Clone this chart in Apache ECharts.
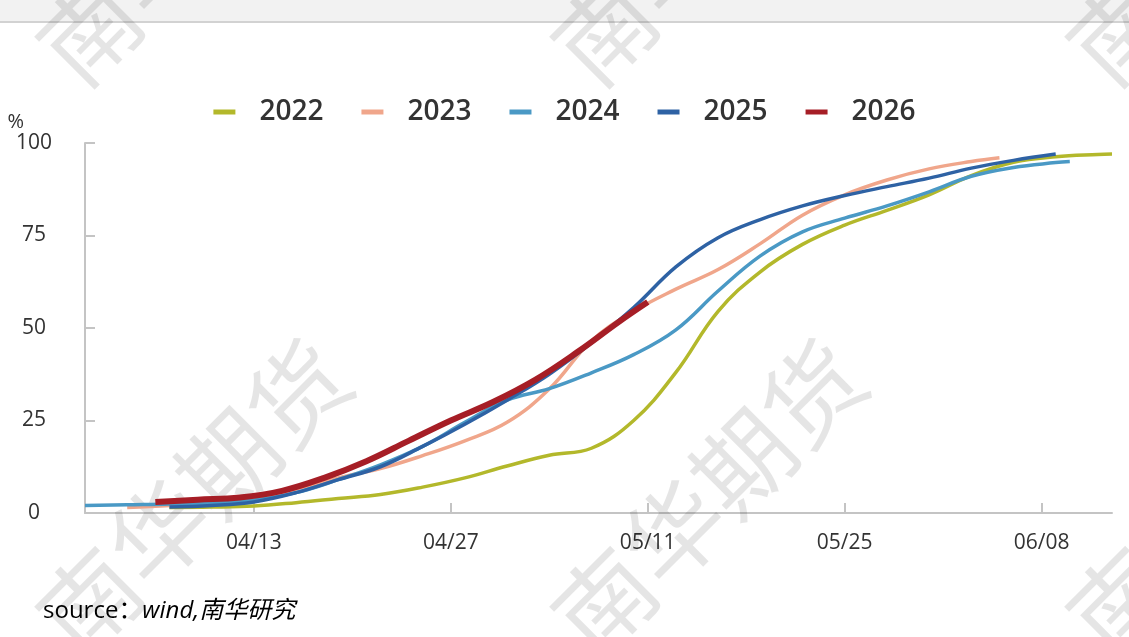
<!DOCTYPE html>
<html>
<head>
<meta charset="utf-8">
<script src="https://cdn.jsdelivr.net/npm/echarts@6/dist/echarts.min.js"></script>
<style>
  html, body { margin: 0; padding: 0; background: #fff; }
  #main { width: 1129px; height: 637px; }
</style>
</head>
<body>
<div id="main"></div>
<script>
// x = days since 04/01
var tickDays = [12, 26, 40, 54, 68];
var tickLabels = ['04/13', '04/27', '05/11', '05/25', '06/08'];
var years = ['2022', '2023', '2024', '2025', '2026'];

var days2022 = [6, 9, 12, 15, 18, 21, 24, 27, 30, 33, 36, 39, 42, 45, 48, 51, 54, 57, 60, 63, 66, 69, 72, 73];
var vals2022 = [1.5, 1.6, 1.9, 2.8, 3.9, 5, 7, 9.5, 12.7, 15.6, 17.5, 25, 38, 54.5, 65.2, 72.6, 77.8, 81.8, 86, 91.2, 94.8, 96.3, 96.9, 97];

var days2023 = [3, 6, 9, 12, 15, 18, 21, 24, 27, 30, 33, 36, 39, 42, 45, 48, 51, 54, 57, 60, 63, 65];
var vals2023 = [1.5, 2, 2.8, 4, 6.5, 9.5, 12, 15.5, 19.5, 24.5, 33.5, 46.5, 54.5, 60.5, 65.8, 72.8, 80.5, 86, 90, 93, 95, 96];

var days2024 = [0, 3, 6, 9, 12, 15, 18, 21, 24, 27, 30, 33, 36, 39, 42, 45, 48, 51, 54, 57, 60, 63, 66, 69, 70];
var vals2024 = [2, 2.2, 2.4, 2.8, 3.5, 5.5, 9, 13, 18, 24.5, 30.5, 33.6, 37.9, 42.8, 49.5, 60, 69.5, 76, 79.7, 83, 86.8, 91, 93.4, 94.7, 95];

var days2025 = [6, 9, 12, 15, 18, 21, 24, 27, 30, 33, 36, 39, 42, 45, 48, 51, 54, 57, 60, 63, 66, 69];
var vals2025 = [1.6, 2, 3, 5.5, 9, 12.5, 18, 24, 30.5, 37.5, 46, 55.5, 66.5, 74.4, 79.3, 83, 85.8, 88.2, 90.5, 93.2, 95.3, 97];

var days2026 = [5, 8, 11, 14, 17, 20, 23, 26, 29, 32, 35, 38, 40];
var vals2026 = [3, 3.6, 4.2, 6, 9.5, 14, 19.5, 25, 30, 36, 43.5, 51.8, 57];

var colors = ['#b3b82b', '#f0a68b', '#4a99c5', '#2e62a4', '#a61e26'];

function pairs(d, v) {
  var out = [];
  for (var i = 0; i < d.length; i++) {
    out.push([d[i], v[i]]);
  }
  return out;
}

var allData = [
  pairs(days2022, vals2022),
  pairs(days2023, vals2023),
  pairs(days2024, vals2024),
  pairs(days2025, vals2025),
  pairs(days2026, vals2026)
];

var series = [];
for (var i = 0; i < years.length; i++) {
  series.push({
    name: years[i],
    type: 'line',
    smooth: 0.4,
    showSymbol: false,
    data: allData[i],
    z: 3 + i,
    lineStyle: { width: i === 4 ? 6 : 3.5, color: colors[i] },
    itemStyle: { color: colors[i] }
  });
}

// watermark
var wm = [];
var wmPos = [[55, 636], [570, 636], [1085, 636], [55, 66], [570, 66], [1085, 66]];
for (var k = 0; k < wmPos.length; k++) {
  wm.push({
    type: 'text',
    x: wmPos[k][0],
    y: wmPos[k][1],
    rotation: Math.PI / 4,
    z: 1,
    silent: true,
    style: {
      text: '南华期货',
      fill: 'rgba(0,0,0,0.10)',
      font: '98px "Noto Sans CJK SC"',
      textAlign: 'left',
      textVerticalAlign: 'middle'
    }
  });
}

var myChart = echarts.init(document.getElementById('main'));
myChart.setOption({
  animation: false,
  backgroundColor: '#fff',
  color: colors,
  grid: {
    left: 85,
    right: 17,
    top: 143,
    bottom: 124,
    containLabel: false,
    outerBoundsMode: 'none'
  },
  legend: {
    top: 93,
    left: 'center',
    icon: 'rect',
    itemWidth: 22,
    itemHeight: 5,
    itemGap: 38,
    textStyle: {
      color: '#333',
      fontSize: 28,
      fontWeight: 600,
      fontFamily: '"Open Sans", "Noto Sans", sans-serif',
      padding: [0, 0, 0, 19]
    },
    data: years
  },
  xAxis: {
    type: 'value',
    min: 0,
    max: 73,
    splitLine: { show: false },
    axisLine: { show: true, lineStyle: { color: '#c4c4c4', width: 2 } },
    axisTick: {
      show: true,
      inside: true,
      length: 10,
      customValues: tickDays,
      lineStyle: { color: '#c4c4c4', width: 2 }
    },
    axisLabel: {
      customValues: tickDays,
      margin: 20,
      color: '#333',
      fontSize: 21,
      fontFamily: '"Open Sans", "Noto Sans", sans-serif',
      formatter: function (v) {
        var idx = tickDays.indexOf(v);
        return idx >= 0 ? tickLabels[idx] : '';
      }
    }
  },
  yAxis: {
    type: 'value',
    min: 0,
    max: 100,
    interval: 25,
    name: '%',
    nameLocation: 'end',
    nameGap: 6,
    nameTextStyle: {
      color: '#333',
      fontSize: 20,
      fontFamily: '"Open Sans", "Noto Sans", sans-serif',
      align: 'right',
      padding: [0, 61, 0, 0]
    },
    splitLine: { show: false },
    axisLine: { show: true, lineStyle: { color: '#c4c4c4', width: 2 } },
    axisTick: { show: true, inside: true, length: 10, lineStyle: { color: '#c4c4c4', width: 2 } },
    axisLabel: {
      margin: 51,
      align: 'center',
      color: '#333',
      fontSize: 21,
      fontFamily: '"Open Sans", "Noto Sans", sans-serif'
    }
  },
  graphic: [
    { type: 'rect', shape: { x: 0, y: 0, width: 1129, height: 21 }, style: { fill: '#f2f2f2' }, z: 0, silent: true },
    { type: 'line', shape: { x1: 0, y1: 22, x2: 1129, y2: 22 }, style: { stroke: '#d2d2d2', lineWidth: 2 }, z: 0, silent: true },
    {
      type: 'text',
      x: 43,
      y: 611,
      z: 10,
      style: {
        text: '{a|source：}{b|wind,南华研究}',
        textVerticalAlign: 'middle',
        rich: {
          a: { fontSize: 24, color: '#333', fontFamily: '"Open Sans", "Noto Sans CJK SC", sans-serif' },
          b: { fontSize: 24, color: '#333', fontStyle: 'italic', fontFamily: '"Open Sans", "Noto Sans CJK SC", sans-serif' }
        }
      }
    }
  ].concat(wm),
  series: series
});
</script>
</body>
</html>
